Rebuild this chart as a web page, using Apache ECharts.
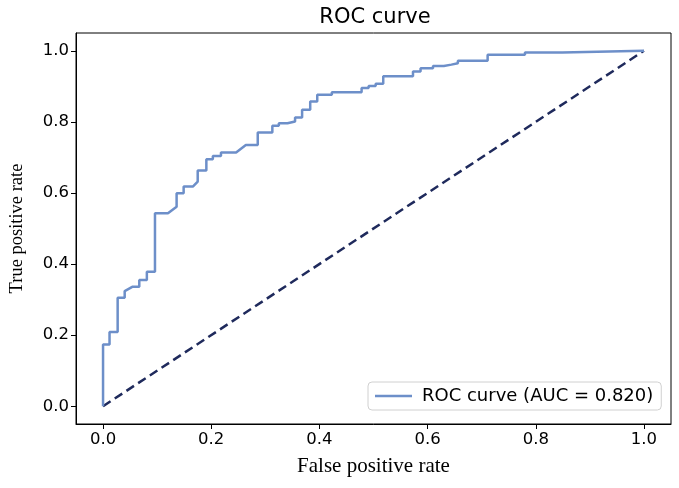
<!DOCTYPE html>
<html>
<head>
<meta charset="utf-8">
<script src="https://cdn.jsdelivr.net/npm/echarts@6/dist/echarts.min.js"></script>
<style>html,body{margin:0;padding:0;background:#fff}#c{width:679px;height:488px}</style>
</head>
<body>
<div id="c"></div>
<script>
const fpr = [0,0,0.012,0.012,0.027,0.027,0.040,0.040,0.054,0.067,0.067,0.081,0.081,0.096,0.096,0.120,0.136,0.136,0.149,0.149,0.166,0.175,0.175,0.191,0.191,0.203,0.203,0.218,0.218,0.246,0.264,0.286,0.286,0.313,0.313,0.325,0.325,0.341,0.341,0.355,0.355,0.368,0.368,0.383,0.383,0.396,0.396,0.423,0.423,0.478,0.478,0.491,0.491,0.504,0.504,0.518,0.518,0.573,0.573,0.587,0.587,0.610,0.610,0.630,0.630,0.644,0.644,0.656,0.656,0.711,0.711,0.780,0.780,0.849,0.849,1.0];
const tpr = [0,0.174,0.174,0.209,0.209,0.305,0.305,0.324,0.336,0.336,0.355,0.355,0.378,0.378,0.543,0.543,0.561,0.599,0.599,0.618,0.618,0.632,0.663,0.663,0.695,0.695,0.704,0.704,0.714,0.714,0.735,0.735,0.770,0.770,0.789,0.789,0.796,0.796,0.801,0.801,0.812,0.812,0.834,0.834,0.857,0.857,0.876,0.876,0.883,0.883,0.895,0.895,0.901,0.901,0.907,0.907,0.928,0.928,0.942,0.942,0.951,0.951,0.957,0.957,0.961,0.961,0.965,0.965,0.972,0.972,0.989,0.989,0.995,0.995,1.0,1.0];
const chanceX = [0, 1];
const chanceY = [0, 1];
const ticks = [0, 0.2, 0.4, 0.6, 0.8, 1.0];
const seriesName = 'ROC curve (AUC = 0.820)';

const rocData = fpr.map((x, i) => [x, tpr[i]]);
const chanceData = chanceX.map((x, i) => [x, chanceY[i]]);

const chart = echarts.init(document.getElementById('c'), null, {renderer: 'canvas'});
const axisCommon = {
  type: 'value', min: -0.05, max: 1.05,
  splitLine: {show: false},
  axisLine: {show: true, onZero: false, lineStyle: {color: '#000', width: 1}},
  axisTick: {show: true, inside: false, length: 5, customValues: ticks, lineStyle: {color: '#000'}},
  axisLabel: {customValues: ticks, formatter: v => v.toFixed(1), color: '#000', fontFamily: 'DejaVu Sans', fontSize: 16.5, margin: 7},
  nameLocation: 'middle'
};
chart.setOption({
  animation: false,
  title: {text: 'ROC curve', left: 370, textAlign: 'center', top: 2,
    textStyle: {fontFamily: 'DejaVu Sans', fontSize: 21, fontWeight: 'normal', color: '#000'}},
  grid: {left: 71, right: 8, top: 33, bottom: 64, show: true, borderColor: '#000', borderWidth: 1, containLabel: false},
  xAxis: Object.assign({}, axisCommon, {name: 'False positive rate', nameGap: 32,
    nameTextStyle: {fontFamily: 'Liberation Serif', fontSize: 21, color: '#000'}}),
  yAxis: Object.assign({}, axisCommon, {name: 'True positive rate', nameGap: 49,
    nameTextStyle: {fontFamily: 'Liberation Serif', fontSize: 18.5, color: '#000'}}),
  legend: {
    data: [{name: seriesName, icon: 'rect'}],
    left: 368, top: 382,
    itemWidth: 37, itemHeight: 2.5, itemGap: 10,
    padding: [5, 8, 5, 7],
    borderColor: '#d0d0d0', borderWidth: 1, borderRadius: 4, backgroundColor: '#fff',
    textStyle: {fontFamily: 'DejaVu Sans', fontSize: 18, color: '#000', padding: [0, 0, 0, 5]}
  },
  series: [
    {type: 'line', name: 'chance', data: chanceData, showSymbol: false, symbol: 'none',
      lineStyle: {color: '#1f2a5c', width: 2.5, type: [9, 5]}, silent: true},
    {type: 'line', name: seriesName, data: rocData, showSymbol: false, symbol: 'none',
      itemStyle: {color: '#6d8fc9'},
      lineStyle: {color: '#6d8fc9', width: 2.5}}
  ]
});
</script>
</body>
</html>
